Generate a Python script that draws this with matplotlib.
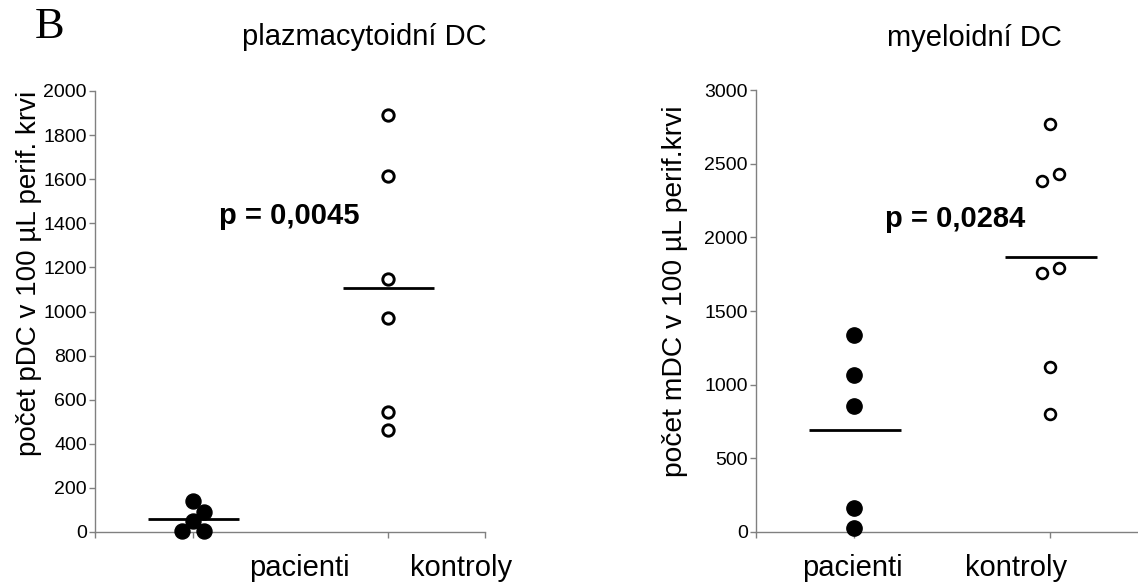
import matplotlib
matplotlib.use("Agg")
import matplotlib.pyplot as plt
import numpy as np

plt.rcParams['font.family'] = ['Liberation Sans', 'DejaVu Sans']

# ---------------- data ----------------
categories = ["pacienti", "kontroly"]

# plasmacytoid DC (left panel)
pdc_patients = [141, 92, 50, 5, 5]
pdc_patients_jitter = [0.0, 0.057, 0.0, -0.054, 0.057]
pdc_controls = [1891, 1614, 1147, 970, 544, 463]
pdc_controls_jitter = [0, 0, 0, 0, 0, 0]
pdc_p = "p = 0,0045"
pdc_yticks = [0, 200, 400, 600, 800, 1000, 1200, 1400, 1600, 1800, 2000]

# myeloid DC (right panel)
mdc_patients = [1335, 1068, 855, 163, 27]
mdc_patients_jitter = [0, 0, 0, 0, 0]
mdc_controls = [2770, 2380, 2430, 1755, 1790, 1120, 800]
mdc_controls_jitter = [0.0, -0.041, 0.046, -0.041, 0.046, 0.0, 0.0]
mdc_p = "p = 0,0284"
mdc_yticks = [0, 500, 1000, 1500, 2000, 2500, 3000]

W, H = 1138, 583
fig = plt.figure(figsize=(W / 100, H / 100), dpi=100)

def fx(x):
    return x / W

def fy(y):
    return 1 - y / H

GRAY = "#808080"

def style_axes(ax, yticks, ylim, xlim, xticks):
    ax.set_ylim(*ylim)
    ax.set_xlim(*xlim)
    ax.set_yticks(yticks)
    ax.set_yticklabels([str(t) for t in yticks], fontsize=14)
    ax.set_xticks(xticks)
    ax.set_xticklabels([])
    for s in ["top", "right"]:
        ax.spines[s].set_visible(False)
    for s in ["left", "bottom"]:
        ax.spines[s].set_color(GRAY)
        ax.spines[s].set_linewidth(1.0)
    ax.tick_params(axis="both", direction="out", length=4.3, width=1.0,
                   color=GRAY, pad=1.5)
    ax.patch.set_alpha(0)

def draw_group(ax, pos, vals, jit, filled, ms, mew=0):
    xs = [pos + j for j in jit]
    if filled:
        ax.plot(xs, vals, "o", color="black", markersize=ms, linestyle="none",
                clip_on=False, zorder=3)
    else:
        ax.plot(xs, vals, "o", markerfacecolor="white", markeredgecolor="black",
                markeredgewidth=mew, markersize=ms, linestyle="none",
                clip_on=False, zorder=3)
    m = np.mean(vals)
    ax.plot([pos - 0.23, pos + 0.24], [m, m], color="black", lw=2, zorder=2,
            solid_capstyle="butt")

# ---------------- left panel ----------------
axL = fig.add_axes([fx(95), fy(532), fx(485) - fx(95), fy(91) - fy(532)])
style_axes(axL, pdc_yticks, (0, 2000), (0.5, 2.5), [0.5, 1, 2, 2.5])
draw_group(axL, 1, pdc_patients, pdc_patients_jitter, True, 10.8)
draw_group(axL, 2, pdc_controls, pdc_controls_jitter, False, 8.2, 2.1)

# ---------------- right panel ----------------
axR = fig.add_axes([fx(756), fy(532), fx(1138) - fx(756), fy(90) - fy(532)])
style_axes(axR, mdc_yticks, (0, 3000), (0.5, 0.5 + 382 / 196), [0.5, 1, 2])
draw_group(axR, 1, mdc_patients, mdc_patients_jitter, True, 11.0)
draw_group(axR, 2, mdc_controls, mdc_controls_jitter, False, 7.8, 1.9)

# ---------------- texts ----------------
fig.text(fx(50), fy(27), "B", fontsize=32, family=["Liberation Serif"],
         ha="center", va="center")
fig.text(fx(364), fy(37), "plazmacytoidní DC", fontsize=21, ha="center", va="center")
fig.text(fx(974), fy(38), "myeloidní DC", fontsize=21, ha="center", va="center")

fig.text(fx(29), fy(273), "počet pDC v 100 µL perif. krvi", fontsize=20,
         rotation=90, ha="center", va="center")
fig.text(fx(675), fy(291), "počet mDC v 100 µL perif.krvi", fontsize=20.3,
         rotation=90, ha="center", va="center")

fig.text(fx(289), fy(216), pdc_p, fontsize=21, fontweight="bold", ha="center", va="center")
fig.text(fx(955), fy(219), mdc_p, fontsize=21, fontweight="bold", ha="center", va="center")

label_x_left = [299, 461]
label_x_right = [852, 1016]
for name, xl, xr in zip(categories, label_x_left, label_x_right):
    fig.text(fx(xl), fy(568), name, fontsize=21, ha="center", va="center")
    fig.text(fx(xr), fy(568), name, fontsize=21, ha="center", va="center")

fig.savefig("out.png", dpi=100, facecolor="white")
